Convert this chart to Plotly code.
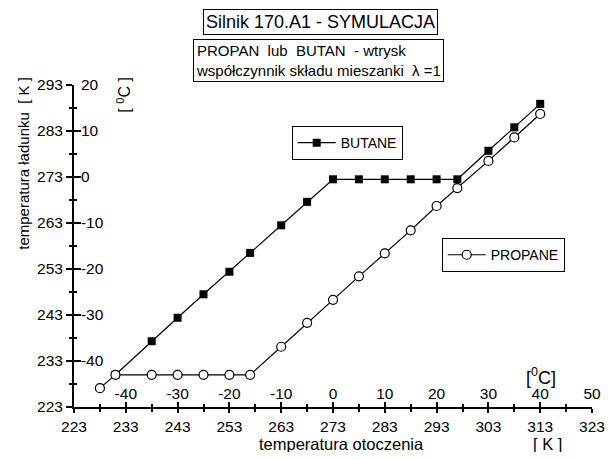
import plotly.graph_objects as go

# ---- data (temperatures in K) ----
propane_x = [228, 231, 238, 243, 248, 253, 257, 263, 268, 273, 278, 283, 288, 293, 297, 303, 308, 313]
propane_y = [227.1, 230.0, 230.0, 230.0, 230.0, 230.0, 230.0, 236.1, 241.3, 246.3, 251.4, 256.4, 261.4, 266.7, 270.6, 276.5, 281.6, 286.7]
butane_x = [231, 238, 243, 248, 253, 257, 263, 268, 273, 278, 283, 288, 293, 297, 303, 308, 313]
butane_y = [230.0, 237.3, 242.4, 247.5, 252.4, 256.5, 262.5, 267.6, 272.5, 272.5, 272.5, 272.5, 272.5, 272.5, 278.7, 283.8, 288.9]

x_k_ticks = list(range(223, 324, 10))
x_c_ticks = list(range(233, 324, 10))
x_c_text = [str(v - 273) for v in x_c_ticks]
y_k_ticks = list(range(223, 294, 10))
y_c_ticks = list(range(233, 294, 10))
y_c_text = [str(v - 273) for v in y_c_ticks]

FONT = "Liberation Sans, Arial, Helvetica, sans-serif"
TS = 15.5

# page body has an 8px margin -> work in window pixels and shift
OFF = 8
W, H = 600, 444
PL, PR, PT, PB = 74.3, 592.3, 85, 406.7   # plot-area edges in window pixels
L = PL - OFF
T = PT - OFF
R = W - (PR - OFF)
B = H - (PB - OFF)
PW, PH = W - L - R, H - T - B


def px(x):
    return (x - OFF - L) / PW


def py(y):
    return (H - B - (y - OFF)) / PH


fig = go.Figure()
fig.add_trace(go.Scatter(
    x=butane_x, y=butane_y, mode="lines+markers", name="BUTANE",
    line=dict(color="black", width=1.2),
    marker=dict(symbol="square", size=8, color="black"),
    legend="legend",
))
fig.add_trace(go.Scatter(
    x=propane_x, y=propane_y, mode="lines+markers", name="PROPANE",
    line=dict(color="black", width=1.2),
    marker=dict(symbol="circle", size=9, color="white", line=dict(color="black", width=1.2)),
    legend="legend2",
))
fig.add_trace(go.Scatter(x=[None], y=[None], xaxis="x2", yaxis="y2", showlegend=False, hoverinfo="skip"))

axis_common = dict(showgrid=False, zeroline=False, automargin=False,
                   tickfont=dict(family=FONT, size=TS, color="black"))

fig.update_layout(
    width=W, height=H,
    margin=dict(l=L, r=R, t=T, b=B, pad=0, autoexpand=False),
    paper_bgcolor="white", plot_bgcolor="white",
    font=dict(family=FONT, size=TS, color="black"),
    xaxis=dict(range=[223, 323], showline=True, linecolor="black", linewidth=2,
               ticks="outside", ticklen=4, tickwidth=1.5, tickcolor="black",
               tickvals=x_k_ticks, ticktext=[str(v) for v in x_k_ticks],
               minor=dict(ticks="outside", ticklen=3, tickwidth=1.5, tickcolor="black", dtick=5, tick0=223),
               **axis_common),
    yaxis=dict(range=[223, 293], showline=True, linecolor="black", linewidth=2,
               ticks="outside", ticklen=6, tickwidth=1.5, tickcolor="black",
               tickvals=y_k_ticks, ticktext=[str(v) for v in y_k_ticks],
               minor=dict(ticks="outside", ticklen=3, tickwidth=1.5, tickcolor="black", dtick=5, tick0=223),
               **axis_common),
    xaxis2=dict(range=[223, 323], overlaying="x", anchor="y2", side="bottom", showline=False,
                ticks="inside", ticklen=5, tickwidth=1.5, tickcolor="black",
                tickvals=x_c_ticks, ticktext=x_c_text, ticklabelposition="inside",
                ticklabeloverflow="allow",
                minor=dict(ticks="inside", ticklen=3, tickwidth=1.5, tickcolor="black", dtick=5, tick0=223),
                **axis_common),
    yaxis2=dict(range=[223, 293], overlaying="y", anchor="x2", side="left", showline=False,
                ticks="inside", ticklen=7, tickwidth=1.5, tickcolor="black",
                tickvals=y_c_ticks, ticktext=y_c_text, ticklabelposition="inside",
                ticklabeloverflow="allow",
                minor=dict(ticks="inside", ticklen=3, tickwidth=1.5, tickcolor="black", dtick=5, tick0=223),
                **axis_common),
    legend=dict(x=px(292), y=py(126), xanchor="left", yanchor="top",
                bordercolor="black", borderwidth=1, bgcolor="white",
                font=dict(family=FONT, size=14), itemwidth=38, tracegroupgap=0),
    legend2=dict(x=px(442), y=py(238), xanchor="left", yanchor="top",
                 bordercolor="black", borderwidth=1, bgcolor="white",
                 font=dict(family=FONT, size=14), itemwidth=38, tracegroupgap=0),
    showlegend=True,
)

center = dict(xref="paper", yref="paper", xanchor="center", yanchor="middle", showarrow=False)
ann = []
ann.append(dict(text="Silnik 170.A1 - SYMULACJA", x=px(321), y=py(22),
                font=dict(family=FONT, size=18), bordercolor="black", borderwidth=1,
                borderpad=2, bgcolor="white", **center))
ann.append(dict(text="PROPAN  lub  BUTAN  - wtrysk<br>współczynnik składu mieszanki  λ =1", x=px(319), y=py(61),
                align="left", font=dict(family=FONT, size=15), bordercolor="black", borderwidth=1,
                borderpad=2, bgcolor="white", **center))
ann.append(dict(text="temperatura ładunku  [ K ]", x=px(23), y=py(163),
                textangle=-90, font=dict(family=FONT, size=15), **center))
ann.append(dict(text="[ <sup>0</sup>C ]", x=px(124), y=py(95),
                textangle=-90, font=dict(family=FONT, size=16), **center))
ann.append(dict(text="[<sup>0</sup>C]", x=px(541), y=py(376),
                font=dict(family=FONT, size=18), **center))
ann.append(dict(text="temperatura otoczenia", x=px(342), y=py(443.5),
                font=dict(family=FONT, size=16.5), **center))
ann.append(dict(text="[ K ]", x=px(548), y=py(443.5),
                font=dict(family=FONT, size=16.5), **center))
fig.update_layout(annotations=ann)

fig.write_html("out.html")
